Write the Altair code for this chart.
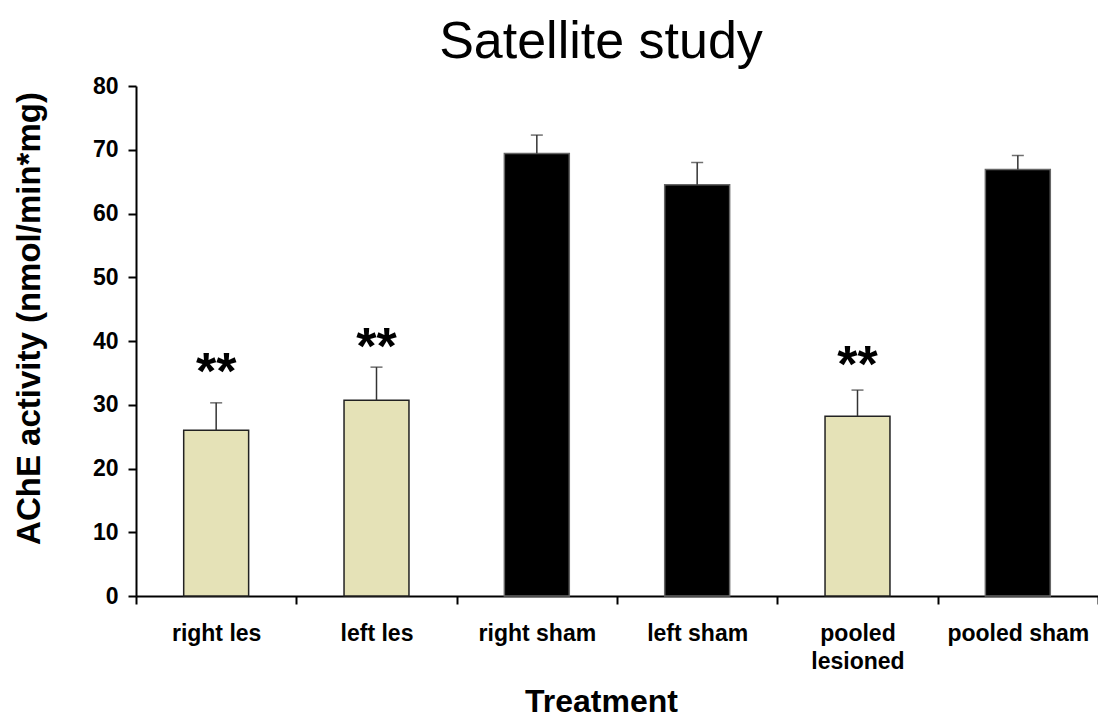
import altair as alt
import pandas as pd

categories = ["right les", "left les", "right sham", "left sham", "pooled lesioned", "pooled sham"]
groups = ["lesion", "lesion", "sham", "sham", "lesion", "sham"]
means = [26.0, 30.7, 69.4, 64.5, 28.2, 66.9]
sems = [4.3, 5.2, 2.9, 3.5, 4.1, 2.2]
stars = ["**", "**", "", "", "**", ""]
star_y = [36.2, 40.2, None, None, 37.3, None]

df = pd.DataFrame({
    "cat": categories,
    "group": groups,
    "mean": means,
    "top": [m + s for m, s in zip(means, sems)],
})
star_df = pd.DataFrame({"cat": categories, "star": stars, "sy": star_y}).dropna()

FONT = "Liberation Sans"

x = alt.X(
    "cat:N",
    sort=categories,
    scale=alt.Scale(paddingInner=0, paddingOuter=0),
    axis=alt.Axis(
        title="Treatment",
        titleFont=FONT, titleFontSize=32, titleFontWeight="bold", titleColor="black",
        titleX=465, titleY=115, titleBaseline="alphabetic",
        labelFont=FONT, labelFontSize=23, labelFontWeight="bold", labelColor="black",
        labelAngle=0, labelPadding=18, labelLineHeight=28, labelBaseline="top",
        labelExpr="datum.label == 'pooled lesioned' ? ['pooled', 'lesioned'] : datum.label",
        tickBand="extent", tickSize=8, tickWidth=2, tickColor="black",
        domainColor="black", domainWidth=2, labelOverlap=False,
    ),
)
y_axis = alt.Axis(
    title="AChE activity (nmol/min*mg)",
    titleFont=FONT, titleFontSize=33, titleFontWeight="bold", titleColor="black",
    titleX=-97, titleY=232, titleBaseline="alphabetic",
    labelFont=FONT, labelFontSize=23, labelFontWeight="bold", labelColor="black",
    labelPadding=10, values=[0, 10, 20, 30, 40, 50, 60, 70, 80],
    tickSize=8, tickWidth=2, tickColor="black",
    domainColor="black", domainWidth=2, grid=False,
)
y_scale = alt.Scale(domain=[0, 80], nice=False, zero=True)

bars = alt.Chart(df).mark_bar(width=alt.RelativeBandSize(0.405), strokeWidth=1.5).encode(
    x=x,
    y=alt.Y("mean:Q", scale=y_scale, axis=y_axis),
    color=alt.Color("group:N", scale=alt.Scale(domain=["lesion", "sham"], range=["#E5E2B7", "#000000"]), legend=None),
    stroke=alt.Stroke("group:N", scale=alt.Scale(domain=["lesion", "sham"], range=["#222222", "#666666"]), legend=None),
)

err = alt.Chart(df).mark_rule(color="#333333", strokeWidth=1.5).encode(
    x=alt.X("cat:N", sort=categories),
    y=alt.Y("mean:Q"),
    y2="top:Q",
)
caps = alt.Chart(df).mark_tick(color="#333333", thickness=1.5, size=12, orient="horizontal").encode(
    x=alt.X("cat:N", sort=categories),
    y=alt.Y("top:Q"),
)
star_text = alt.Chart(star_df).mark_text(
    font=FONT, fontSize=52, fontWeight="bold", color="black",
    baseline="alphabetic", dy=24,
).encode(
    x=alt.X("cat:N", sort=categories),
    y=alt.Y("sy:Q"),
    text="star:N",
)

chart = alt.layer(bars, err, caps, star_text).properties(
    width=962,
    height=510,
    padding={"left": 136, "top": 86, "right": 0, "bottom": 123},
    autosize=alt.AutoSizeParams(type="none"),
    title=alt.TitleParams(
        "Satellite study", font=FONT, fontSize=52, fontWeight="normal", color="black",
        anchor="middle", frame="group", dx=-16, dy=55, baseline="alphabetic", offset=20,
    ),
).configure(background="white").configure_view(stroke=None)

chart.save("out.html", embed_options={"renderer": "svg", "actions": False})
